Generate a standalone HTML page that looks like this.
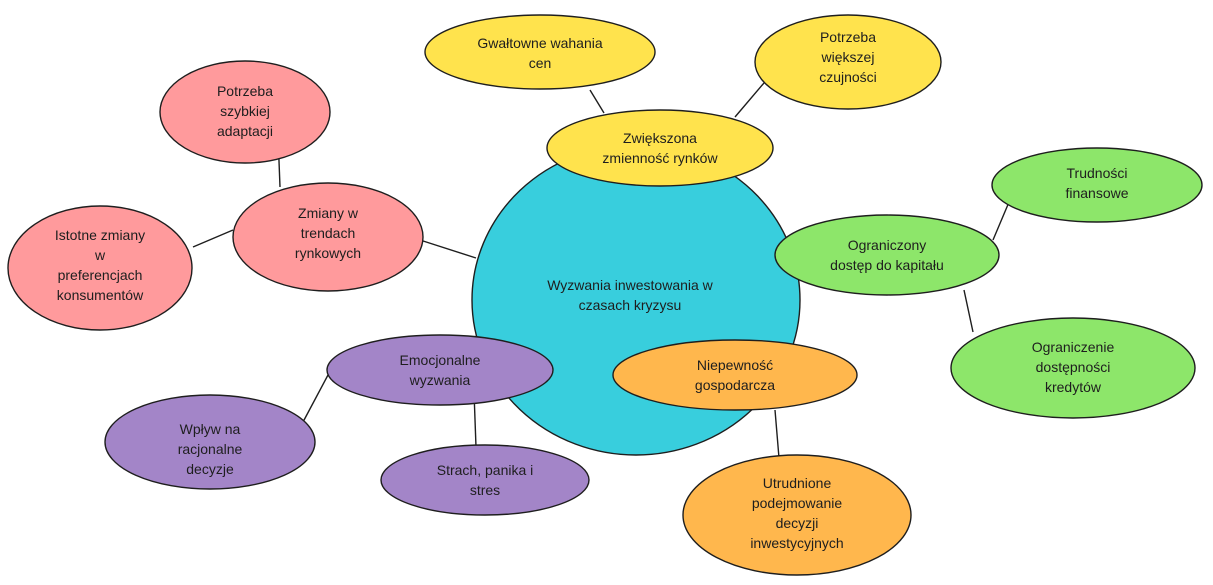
<!DOCTYPE html>
<html><head><meta charset="utf-8"><style>
html,body{margin:0;padding:0;background:#fff;}
svg{display:block}
text{font-family:"Liberation Sans",sans-serif;font-size:14px;fill:#1e1e1e;text-anchor:middle}
.e{stroke:#1e1e1e;stroke-width:1.4}
</style></head><body>
<svg width="1213" height="585" viewBox="0 0 1213 585">
<g stroke="#1e1e1e" stroke-width="1.4" fill="none">
<line x1="590" y1="90" x2="604" y2="113"/>
<line x1="775" y1="70" x2="735" y2="117"/>
<line x1="420" y1="240" x2="476" y2="258"/>
<line x1="278" y1="135" x2="280" y2="187"/>
<line x1="233" y1="230" x2="193" y2="247"/>
<line x1="328" y1="375" x2="303" y2="422"/>
<line x1="474" y1="392" x2="476" y2="447"/>
<line x1="1012" y1="195" x2="993" y2="240"/>
<line x1="964" y1="290" x2="973" y2="332"/>
<line x1="775" y1="410" x2="779" y2="458"/>
<line x1="773" y1="343" x2="785" y2="362"/>
</g>
<ellipse class="e" cx="636" cy="300" rx="164" ry="155" fill="#38cedd"/>
<ellipse class="e" cx="660" cy="148" rx="113" ry="38" fill="#ffe34d"/>
<ellipse class="e" cx="540" cy="52" rx="115" ry="37" fill="#ffe34d"/>
<ellipse class="e" cx="848" cy="62" rx="93" ry="47" fill="#ffe34d"/>
<ellipse class="e" cx="887" cy="255" rx="112" ry="40" fill="#8de66a"/>
<ellipse class="e" cx="1097" cy="185" rx="105" ry="37" fill="#8de66a"/>
<ellipse class="e" cx="1073" cy="368" rx="122" ry="50" fill="#8de66a"/>
<ellipse class="e" cx="735" cy="375" rx="122" ry="35" fill="#ffb74d"/>
<ellipse class="e" cx="797" cy="515" rx="114" ry="60" fill="#ffb74d"/>
<ellipse class="e" cx="440" cy="370" rx="113" ry="35" fill="#a385c8"/>
<ellipse class="e" cx="210" cy="442" rx="105" ry="47" fill="#a385c8"/>
<ellipse class="e" cx="485" cy="480" rx="104" ry="35" fill="#a385c8"/>
<ellipse class="e" cx="328" cy="237" rx="95" ry="54" fill="#ff9a9c"/>
<ellipse class="e" cx="245" cy="112" rx="85" ry="51" fill="#ff9a9c"/>
<ellipse class="e" cx="100" cy="268" rx="92" ry="62" fill="#ff9a9c"/>
<text x="630" y="290">Wyzwania inwestowania w</text><text x="630" y="310">czasach kryzysu</text>
<text x="660" y="143">Zwiększona</text><text x="660" y="163">zmienność rynków</text>
<text x="540" y="48">Gwałtowne wahania</text><text x="540" y="68">cen</text>
<text x="848" y="42">Potrzeba</text><text x="848" y="62">większej</text><text x="848" y="82">czujności</text>
<text x="887" y="250">Ograniczony</text><text x="887" y="270">dostęp do kapitału</text>
<text x="1097" y="178">Trudności</text><text x="1097" y="198">finansowe</text>
<text x="1073" y="352">Ograniczenie</text><text x="1073" y="372">dostępności</text><text x="1073" y="392">kredytów</text>
<text x="735" y="370">Niepewność</text><text x="735" y="390">gospodarcza</text>
<text x="797" y="488">Utrudnione</text><text x="797" y="508">podejmowanie</text><text x="797" y="528">decyzji</text><text x="797" y="548">inwestycyjnych</text>
<text x="440" y="365">Emocjonalne</text><text x="440" y="385">wyzwania</text>
<text x="210" y="434">Wpływ na</text><text x="210" y="454">racjonalne</text><text x="210" y="474">decyzje</text>
<text x="485" y="475">Strach, panika i</text><text x="485" y="495">stres</text>
<text x="328" y="218">Zmiany w</text><text x="328" y="238">trendach</text><text x="328" y="258">rynkowych</text>
<text x="245" y="96">Potrzeba</text><text x="245" y="116">szybkiej</text><text x="245" y="136">adaptacji</text>
<text x="100" y="240">Istotne zmiany</text><text x="100" y="260">w</text><text x="100" y="280">preferencjach</text><text x="100" y="300">konsumentów</text>
</svg>
</body></html>
